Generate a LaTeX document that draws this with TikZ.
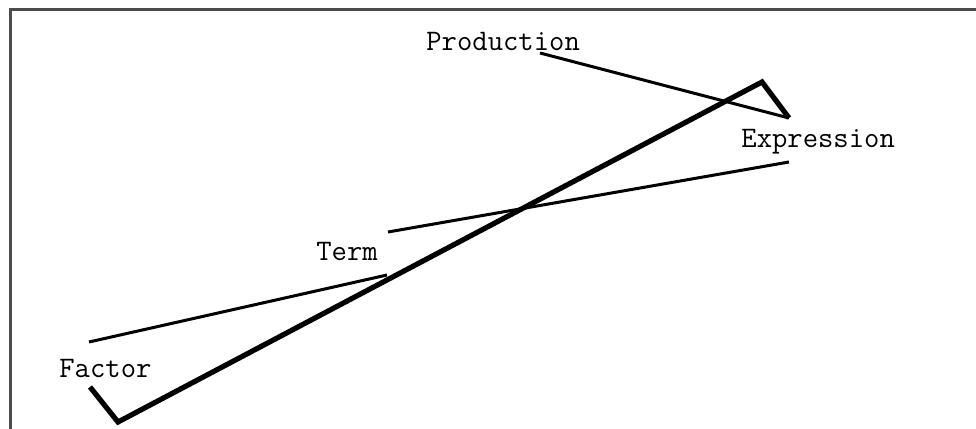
\documentclass[tikz,border=0pt]{standalone}

\begin{document}
\begin{tikzpicture}[x=0.5pt, y=-0.5pt,
    every node/.style={font=\ttfamily\fontsize{14.9}{17}\selectfont, inner sep=0pt, anchor=base west},
    thinlink/.style={line width=1.5pt},
    thicklink/.style={line width=2.6pt}]

    % 1. Ukuran gambar
    \useasboundingbox (0,0) rectangle (976,429);

    % 2. Bingkai (hanya sisi atas dan kiri yang terlihat)
    \draw[line width=1.5pt, black!70] (10,440) -- (10,9) -- (990,9);

    % 3. Label
    \node (prod) at (426,50) {Production};
    \node (expr) at (741,147) {Expression};
    \node (term) at (316,260) {Term};
    \node (fact) at (59,377) {Factor};

    % 4. Titik ujung garis
    \coordinate (prodTail) at (540,53);
    \coordinate (exprTip) at (789,118);
    \coordinate (exprTop) at (762,82);
    \coordinate (exprLow) at (789,162);
    \coordinate (termTop) at (388,232);
    \coordinate (termLow) at (387,275);
    \coordinate (factTop) at (89,342);
    \coordinate (factBot) at (118,422);
    \coordinate (factTail) at (90,387);

    % 5. Garis tipis
    \draw[thinlink] (prodTail) -- (exprTip);
    \draw[thinlink] (termTop) -- (exprLow);
    \draw[thinlink] (factTop) -- (termLow);

    % 6. Garis tebal
    \draw[thicklink] (exprTip) -- (exprTop) -- (factBot) -- (factTail);

\end{tikzpicture}
\end{document}
